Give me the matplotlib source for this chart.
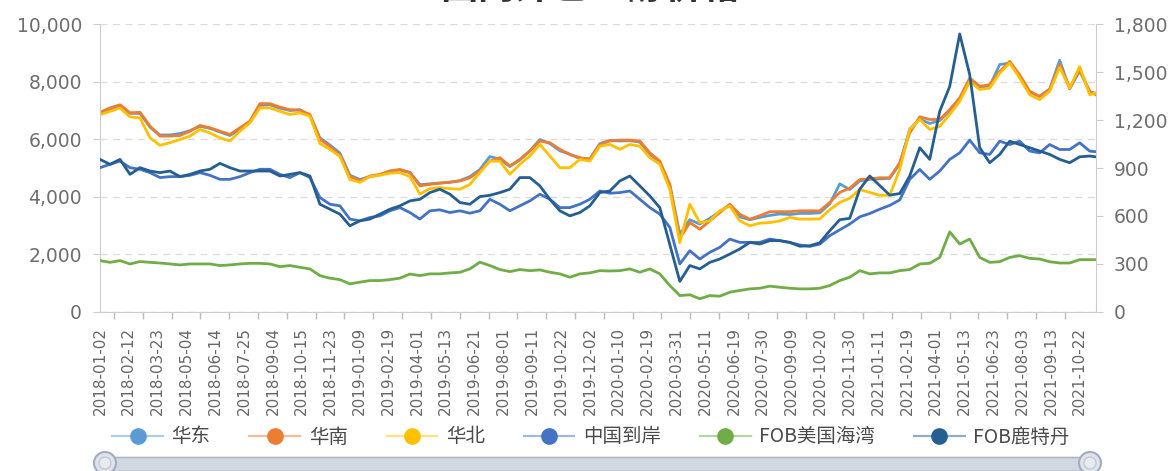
import numpy as np
import matplotlib.pyplot as plt
from matplotlib.lines import Line2D
from matplotlib.patches import FancyBboxPatch, Circle
from matplotlib.ticker import FuncFormatter

# x axis labels (one every 29 trading days)
dates = ["2018-01-02", "2018-02-12", "2018-03-23", "2018-05-04", "2018-06-14", "2018-07-25",
         "2018-09-04", "2018-10-15", "2018-11-23", "2019-01-09", "2019-02-19", "2019-04-01",
         "2019-05-13", "2019-06-21", "2019-08-01", "2019-09-11", "2019-10-22", "2019-12-02",
         "2020-01-10", "2020-02-19", "2020-03-31", "2020-05-11", "2020-06-19", "2020-07-30",
         "2020-09-09", "2020-10-20", "2020-11-30", "2021-01-11", "2021-02-19", "2021-04-01",
         "2021-05-13", "2021-06-23", "2021-08-03", "2021-09-13", "2021-10-22"]

# domestic prices, CNY/t (left axis) - sampled roughly every 10 trading days
huadong = [6900, 7050, 7180, 6900, 6900, 6420, 6150, 6150, 6200, 6300,
           6450, 6380, 6250, 6130, 6350, 6600, 7180, 7200, 7080, 7000,
           7030, 6830, 6050, 5800, 5520, 4750, 4600, 4700, 4760, 4870,
           4930, 4850, 4420, 4450, 4480, 4500, 4560, 4700, 4950, 5400,
           5300, 5050, 5280, 5600, 5990, 5850, 5600, 5480, 5330, 5320,
           5850, 5960, 5940, 5950, 5900, 5480, 5200, 4400, 2700, 3200,
           3050, 3250, 3480, 3720, 3300, 3200, 3280, 3350, 3400, 3380,
           3420, 3420, 3440, 3750, 4450, 4250, 4550, 4600, 4620, 4640,
           5150, 6350, 6700, 6550, 6650, 7000, 7400, 8050, 7800, 7850,
           8600, 8650, 8200, 7620, 7500, 7750, 8750, 7750, 8380, 7650, 7600]
huanan = [6940, 7090, 7200, 6920, 6940, 6460, 6110, 6110, 6130, 6280,
          6480, 6400, 6280, 6170, 6400, 6630, 7240, 7240, 7120, 7030,
          7010, 6860, 6000, 5750, 5450, 4700, 4550, 4720, 4780, 4900,
          4950, 4840, 4380, 4430, 4470, 4510, 4550, 4660, 4900, 5240,
          5360, 5070, 5300, 5590, 5940, 5880, 5650, 5470, 5360, 5300,
          5820, 5940, 5970, 5970, 5940, 5530, 5240, 4430, 2550, 3100,
          2870, 3160, 3450, 3740, 3390, 3220, 3340, 3480, 3480, 3480,
          3510, 3510, 3510, 3800, 4150, 4300, 4600, 4620, 4660, 4660,
          5180, 6220, 6780, 6690, 6690, 7030, 7440, 8130, 7840, 7900,
          8360, 8710, 8240, 7670, 7490, 7730, 8600, 7780, 8420, 7670, 7550]
huabei = [6860, 6970, 7090, 6780, 6740, 6050, 5790, 5880, 5990, 6110,
          6340, 6220, 6050, 5940, 6280, 6570, 7090, 7090, 6970, 6860,
          6920, 6800, 5850, 5650, 5400, 4600, 4500, 4700, 4750, 4820,
          4840, 4700, 4090, 4280, 4320, 4280, 4260, 4430, 4840, 5240,
          5240, 4780, 5130, 5420, 5820, 5420, 5010, 5010, 5300, 5240,
          5760, 5820, 5650, 5820, 5760, 5360, 5130, 4260, 2400, 3740,
          3100, 3160, 3510, 3680, 3160, 2990, 3080, 3100, 3160, 3280,
          3220, 3220, 3230, 3550, 3800, 3950, 4250, 4150, 4050, 4050,
          4950, 6340, 6690, 6340, 6450, 6860, 7320, 8010, 7730, 7780,
          8300, 8650, 8130, 7550, 7380, 7670, 8500, 7780, 8530, 7550, 7610]

# overseas prices, USD/t (right axis)
cfr_china = [902, 923, 943, 902, 892, 871, 840, 846, 846, 854,
             871, 854, 829, 829, 846, 871, 892, 892, 860, 840,
             871, 840, 715, 673, 663, 580, 569, 590, 600, 632,
             652, 621, 580, 632, 638, 621, 632, 617, 632, 704,
             673, 632, 663, 694, 736, 704, 652, 652, 673, 704,
             756, 742, 746, 756, 704, 652, 611, 528, 299, 382,
             330, 372, 403, 455, 434, 434, 434, 455, 445, 434,
             418, 409, 423, 476, 513, 549, 594, 615, 642, 666,
             700, 829, 891, 829, 881, 954, 995, 1075, 995, 985,
             1068, 1047, 1068, 1006, 995, 1047, 1016, 1016, 1058, 1006, 1002]
fob_gulf = [320, 309, 320, 299, 314, 309, 305, 299, 293, 299,
            299, 299, 289, 293, 299, 303, 303, 299, 282, 289,
            278, 268, 226, 210, 201, 174, 185, 195, 195, 201,
            210, 236, 226, 237, 237, 243, 247, 268, 310, 289,
            264, 251, 264, 257, 262, 247, 237, 216, 237, 243,
            257, 255, 257, 268, 247, 268, 237, 164, 101, 106,
            81, 101, 97, 122, 133, 143, 147, 160, 153, 147,
            143, 143, 147, 164, 195, 216, 257, 237, 243, 243,
            257, 264, 299, 303, 340, 500, 424, 455, 340, 309,
            313, 340, 351, 334, 330, 313, 305, 305, 326, 326, 326]
fob_rotterdam = [954, 923, 954, 860, 902, 881, 871, 881, 846, 860,
                 881, 892, 929, 902, 881, 881, 881, 881, 850, 860,
                 871, 850, 673, 642, 611, 538, 569, 580, 611, 642,
                 663, 694, 704, 746, 767, 736, 684, 673, 721, 729,
                 746, 767, 840, 840, 788, 704, 632, 600, 621, 663,
                 746, 756, 819, 850, 788, 725, 652, 420, 190, 289,
                 268, 309, 330, 361, 393, 434, 424, 445, 445, 434,
                 410, 413, 432, 507, 576, 585, 767, 850, 790, 730,
                 740, 850, 1027, 954, 1255, 1411, 1740, 1484, 1027, 933,
                 985, 1068, 1047, 1027, 1006, 985, 954, 933, 970, 975, 970]

names = ["华东", "华南", "华北", "中国到岸", "FOB美国海湾", "FOB鹿特丹"]
colors = ["#5B9BD5", "#ED7D31", "#FFC000", "#4472C4", "#70AD47", "#255E91"]

# trading-day index of each sample
x = np.append(np.arange(len(huadong) - 1) * 10.06, 1002)
label_pos = np.arange(len(dates)) * 29

W, H = 1174, 471
fig = plt.figure(figsize=(W / 100, H / 100), dpi=100)
ax = fig.add_axes([100 / W, 159.3 / H, 995.7 / W, 287.4 / H])
ax2 = ax.twinx()

for vals, c, n in zip([huadong, huanan, huabei], colors[:3], names[:3]):
    ax.plot(x, vals, color=c, lw=2.0, label=n)
for vals, c, n in zip([cfr_china, fob_gulf, fob_rotterdam], colors[3:], names[3:]):
    ax2.plot(x, vals, color=c, lw=2.0, label=n)

ax.set_xlim(0, 1002)
ax.set_ylim(0, 10000)
ax2.set_ylim(0, 1800)
ax.set_yticks(np.arange(0, 10001, 2000))
ax2.set_yticks(np.arange(0, 1801, 300))
fmt = FuncFormatter(lambda v, p: f"{v:,.0f}")
ax.yaxis.set_major_formatter(fmt)
ax2.yaxis.set_major_formatter(fmt)

ax.set_xticks(label_pos)
ax.set_xticklabels(dates, rotation=90, fontsize=10.9, color="#666666")
ax.set_xticks(label_pos[:-1] + 14, minor=True)
ax.tick_params(axis="x", which="major", length=0, pad=11)
ax.tick_params(axis="x", which="minor", length=5, color="#bbbbbb", width=1)
ax.tick_params(axis="y", length=5, color="#cccccc", pad=8, labelsize=13.5, labelcolor="#6e6e6e")
ax2.tick_params(axis="y", length=5, color="#cccccc", pad=8, labelsize=13.5, labelcolor="#6e6e6e")

ax.grid(axis="y", linestyle=(0, (5, 4)), color="#dcdcdc", lw=1)
ax.set_axisbelow(True)
for a in (ax, ax2):
    a.spines["top"].set_visible(False)
    for s in ("left", "right", "bottom"):
        a.spines[s].set_color("#cccccc")
ax.spines["right"].set_visible(False)
ax2.spines["left"].set_visible(False)
ax2.spines["bottom"].set_visible(False)

# legend: pale line with a solid circle
handles = [(Line2D([], [], color=c, lw=1.6, alpha=0.5),
            Line2D([], [], color=c, marker="o", ms=11, ls="none")) for c in colors]
leg = fig.legend(handles, names, ncol=6, loc="center", bbox_to_anchor=(591 / W, 34 / H),
                 frameon=False, handlelength=2.6, handletextpad=0.45, columnspacing=2.0,
                 prop={"family": ["Noto Sans CJK SC", "DejaVu Sans"], "size": 14})
for t in leg.get_texts():
    t.set_color("#4a4a4a")

# title, mostly cut off at the top edge
fig.text(590 / W, 1 - 7 / H, "国内外乙二醇价格", ha="center", va="bottom", fontsize=27,
         fontweight="bold", color="#333333", family=["Noto Sans CJK SC", "DejaVu Sans"])

# data zoom slider at the bottom
sl = fig.add_axes([0, 0, 1, 1])
sl.set_xlim(0, W)
sl.set_ylim(H, 0)
sl.axis("off")
sl.add_patch(FancyBboxPatch((105, 457.5), 985, 14, boxstyle="round,pad=0,rounding_size=6",
                            fc="#d2d8e2", ec="#aeb7c6", lw=1.2))
for cx in (105, 1090):
    sl.add_patch(Circle((cx, 463), 11, fc="#dfe3ea", ec="#a3adbd", lw=1.5))
    sl.add_patch(Circle((cx, 463), 6, fc="#e8ebf0", ec="#c3c9d4", lw=1))

fig.savefig("out.png", dpi=100)
